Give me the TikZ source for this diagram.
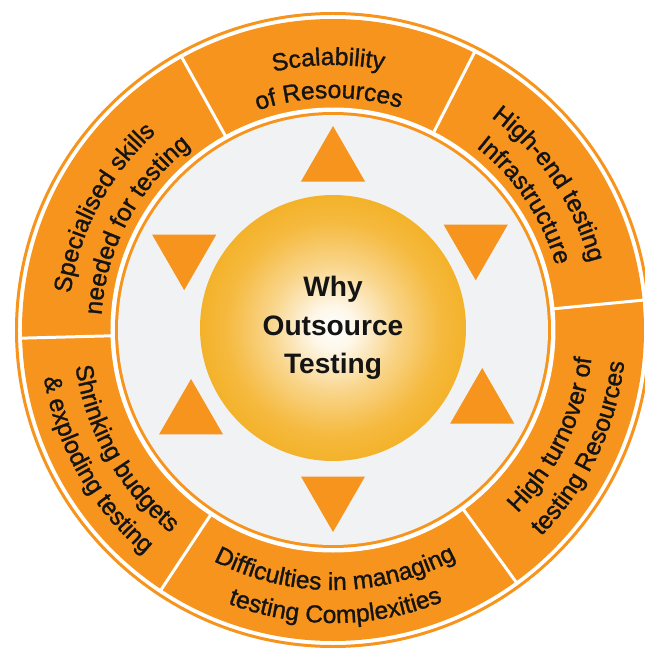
\documentclass[tikz,border=0pt]{standalone}
\usepackage{fontspec}
\setmainfont{Liberation Sans}
\newfontfamily\ringface{Liberation Sans}[FakeBold=1.2]
\usepackage{tikz}
\usetikzlibrary{calc,shapes.geometric,decorations.text}
\definecolor{band}{HTML}{F7941D}
\definecolor{core}{HTML}{F1F2F3}
\definecolor{gold}{HTML}{F4B22A}
\definecolor{ink}{HTML}{141414}
\newcommand{\ringfont}{\ringface\fontsize{14pt}{16pt}\selectfont}
\pgfdeclareradialshading{hubglow}{\pgfpoint{0bp}{0bp}}{color(0bp)=(white); color(4bp)=(white!90!gold); color(12bp)=(white!45!gold); color(20bp)=(white!10!gold); color(25bp)=(gold); color(50bp)=(gold)}

\begin{document}
\begin{tikzpicture}[
  tri/.style={regular polygon, regular polygon sides=3, fill=band, inner sep=0pt, minimum size=1.48cm},
  tridown/.style={tri, shape border rotate=180},
  divider/.style={draw=white, line width=1.7pt},
  hub/.style={circle, shading=hubglow, minimum size=5.32cm, inner sep=0pt, align=center, text=ink,
    font=\fontsize{16pt}{22pt}\selectfont\bfseries},
  ringtext/.style={decorate, decoration={text along path, text align=center, text={|\color{ink}\ringfont|#1}}}
]
  \fill[white] (-6.66,-6.44) rectangle (6.24,6.60);
  \useasboundingbox (-6.66,-6.44) rectangle (6.24,6.60);

  \draw[band, line width=1.7pt] (0,0) circle[radius=6.33];
  \fill[band] (0,0) circle[radius=6.22];
  \fill[white] (0,0) circle[radius=4.45];
  \fill[band] (0,0) circle[radius=4.36];
  \fill[core] (0,0) circle[radius=4.30];
  \foreach \a in {5.5,63,119,181.5,236.5,306}
    \draw[divider] (\a:4.42) -- (\a:6.26);

  \node[tri]     (tn)  at ($(0,0.02)+(90:3.32)$)  {};
  \node[tridown] (tne) at ($(0,0.02)+(31:3.33)$)  {};
  \node[tri]     (tse) at ($(0,0.02)+(-27:3.35)$) {};
  \node[tridown] (ts)  at ($(0,0.02)+(-90:3.32)$) {};
  \node[tri]     (tsw) at ($(0,0.02)+(211.5:3.33)$) {};
  \node[tridown] (tnw) at ($(0,0.02)+(153:3.34)$) {};

  \node[hub] (why) at (0,0.04) {Why\\Outsource\\Testing};

  \path[ringtext=Scalability] (141:5.30) arc[start angle=141, end angle=41, radius=5.30];
  \path[ringtext=of Resources] (141:4.64) arc[start angle=141, end angle=41, radius=4.64];
  \path[ringtext=High-end testing] (84:5.30) arc[start angle=84, end angle=-16, radius=5.30];
  \path[ringtext=Infrastructure] (84:4.64) arc[start angle=84, end angle=-16, radius=4.64];
  \path[ringtext=Specialised skills] (202:5.30) arc[start angle=202, end angle=102, radius=5.30];
  \path[ringtext=needed for testing] (202:4.64) arc[start angle=202, end angle=102, radius=4.64];
  \path[ringtext=High turnover of] (-75.5:5.20) arc[start angle=-75.5, end angle=24.5, radius=5.20];
  \path[ringtext=testing Resources] (-75.5:5.86) arc[start angle=-75.5, end angle=24.5, radius=5.86];
  \path[ringtext=Difficulties in managing] (-139.5:5.20) arc[start angle=-139.5, end angle=-39.5, radius=5.20];
  \path[ringtext=testing Complexities] (-139.5:5.86) arc[start angle=-139.5, end angle=-39.5, radius=5.86];
  \path[ringtext=Shrinking budgets] (159.7:5.20) arc[start angle=159.7, end angle=259.7, radius=5.20];
  \path[ringtext={{\&} exploding testing}] (159.7:5.86) arc[start angle=159.7, end angle=259.7, radius=5.86];
\end{tikzpicture}
\end{document}
